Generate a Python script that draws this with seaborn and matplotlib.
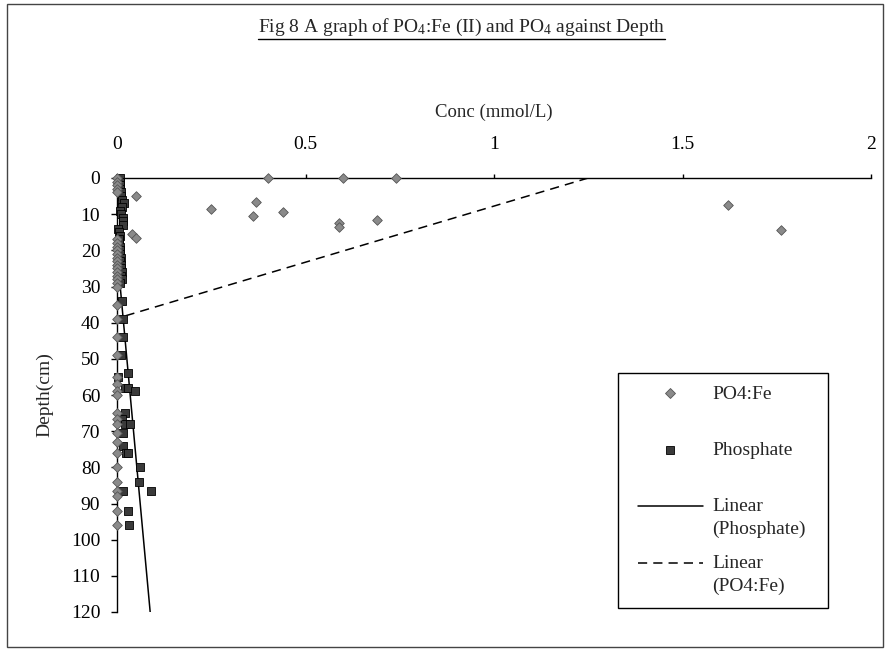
import numpy as np
import pandas as pd
import matplotlib
matplotlib.use("Agg")
import matplotlib.pyplot as plt
import seaborn as sns
from matplotlib.lines import Line2D
from matplotlib.patches import Rectangle
from matplotlib.legend_handler import HandlerLine2D
from matplotlib.transforms import Affine2D

# ---------------- data ----------------
fe_depth = [0, 0, 0, 5, 6.5, 7.5, 8.5, 9.5, 10.5, 11.5, 12.5, 13.5, 14.5, 15.5, 16.5,
            0, 1, 2, 3, 4, 17, 18, 19, 20, 21, 22, 23, 24, 25, 26, 27, 28, 29, 30,
            35, 39, 44, 49, 55, 57, 59, 60, 65, 66.5, 68, 70.5, 73, 76, 80, 84, 86.5,
            88, 92, 96]
fe_conc = [0.40, 0.60, 0.74, 0.05, 0.37, 1.62, 0.25, 0.44, 0.36, 0.69, 0.59, 0.59, 1.76, 0.04, 0.05,
           0.0, 0.0, 0.0, 0.0, 0.0, 0.0, 0.0, 0.0, 0.0, 0.0, 0.0, 0.0,
           0.0, 0.0, 0.0, 0.0, 0.0, 0.0, 0.0,
           0.0, 0.0, 0.0, 0.0, 0.0, 0.0, 0.0, 0.0, 0.0, 0.0, 0.0, 0.0,
           0.0, 0.0, 0.0, 0.0, 0.0, 0.0, 0.0, 0.0]

ph_depth = [0, 1, 2, 3, 4, 5, 6, 7, 8, 9, 10, 11, 12, 13, 14, 15, 16, 17, 18, 19, 20,
            21, 22, 23, 24, 25, 26, 27, 28, 29, 34, 39, 44, 49, 54, 55, 58, 58, 59,
            65, 66.5, 68, 68, 70.5, 74, 76, 76, 80, 84, 86.5, 86.5, 92, 96]
ph_conc = [0.008, 0.008, 0.008, 0.008, 0.010, 0.010, 0.012, 0.018, 0.012, 0.008, 0.010,
           0.015, 0.015, 0.015, 0.003, 0.005, 0.008, 0.005, 0.005, 0.008, 0.008, 0.008,
           0.010, 0.008, 0.010, 0.010, 0.012, 0.010, 0.012, 0.008, 0.012, 0.015, 0.015,
           0.010, 0.030, 0.003, 0.020, 0.030, 0.048, 0.020, 0.012, 0.020, 0.035, 0.015,
           0.015, 0.025, 0.030, 0.060, 0.058, 0.015, 0.090, 0.030, 0.032]

# linear trend lines (end points)
ph_trend_depth = [0, 120]
ph_trend_conc = [-0.018, 0.088]
fe_trend_depth = [0, 38.8]
fe_trend_conc = [1.25, 0.0]

x_ticks = [0, 0.5, 1, 1.5, 2]
x_tick_labels = ["0", "0.5", "1", "1.5", "2"]
y_ticks = list(range(0, 121, 10))

title = r"Fig 8 A graph of PO$_4$:Fe (II) and PO$_4$ against Depth"
x_label = "Conc (mmol/L)"
y_label = "Depth(cm)"
legend_labels = ["PO4:Fe\n ", "Phosphate\n ", "Linear\n(Phosphate)", "Linear\n(PO4:Fe)"]

fe_df = pd.DataFrame({"conc": fe_conc, "depth": fe_depth})
ph_df = pd.DataFrame({"conc": ph_conc, "depth": ph_depth})
ph_tr = pd.DataFrame({"conc": ph_trend_conc, "depth": ph_trend_depth})
fe_tr = pd.DataFrame({"conc": fe_trend_conc, "depth": fe_trend_depth})

# ---------------- style ----------------
sns.set_style("white")
plt.rcParams["font.family"] = ["Liberation Serif", "DejaVu Serif"]
plt.rcParams["mathtext.fontset"] = "custom"
plt.rcParams["mathtext.rm"] = "Liberation Serif"
plt.rcParams["mathtext.it"] = "Liberation Serif"

W, H = 888, 650
fig = plt.figure(figsize=(W / 100, H / 100), dpi=100)
ax = fig.add_axes([117 / W, 1 - 612 / H, (871 - 117) / W, (612 - 178) / H])

FE_FACE, FE_EDGE = "#8a8a8a", "#555555"
PH_FACE, PH_EDGE = "#3a3a3a", "black"
DASH = (0, (6, 4))

# trend lines
sns.lineplot(data=ph_tr, x="conc", y="depth", sort=False, estimator=None,
             color="black", lw=1.1, ax=ax, legend=False)
sns.lineplot(data=fe_tr, x="conc", y="depth", sort=False, estimator=None,
             color="black", lw=1.1, ax=ax, legend=False, linestyle=DASH)

# scatter series
sns.scatterplot(data=ph_df, x="conc", y="depth", marker="s", s=30,
                color=PH_FACE, edgecolor=PH_EDGE, linewidth=0.6, ax=ax, zorder=3,
                clip_on=False)
sns.scatterplot(data=fe_df, x="conc", y="depth", marker="D", s=24,
                color=FE_FACE, edgecolor=FE_EDGE, linewidth=0.6, ax=ax, zorder=4,
                clip_on=False)

ax.set_xlim(0, 2)
ax.set_ylim(120, 0)
ax.xaxis.tick_top()
ax.xaxis.set_label_position("top")
ax.set_xticks(x_ticks)
ax.set_xticklabels(x_tick_labels)
ax.set_yticks(y_ticks)

for s in ["right", "bottom"]:
    ax.spines[s].set_visible(False)
for s in ["left", "top"]:
    ax.spines[s].set_color("black")
    ax.spines[s].set_linewidth(1.0)

ax.tick_params(axis="x", which="major", top=True, bottom=False, direction="out",
               length=3, width=1, pad=15, labelsize=14, colors="black")
ax.tick_params(axis="y", which="major", left=True, direction="out",
               length=4, width=1, pad=8, labelsize=14, colors="black")

ax.set_xlabel(x_label, fontsize=13.5)
ax.set_ylabel(y_label, fontsize=14)
ax.xaxis.set_label_coords(0.5, (612 - 112) / (612 - 178))
ax.xaxis.label.set_va("center")
ax.yaxis.set_label_coords((45 - 117) / (871 - 117), 0.5)
ax.yaxis.label.set_va("center")

# title with underline
t = fig.text(461.5 / W, 1 - 27 / H, title, ha="center", va="center", fontsize=14)


# legend: handles aligned with the first line of each label
class FirstLineHandler(HandlerLine2D):
    def __init__(self, dy, **kw):
        super().__init__(**kw)
        self.dy = dy

    def create_artists(self, legend, orig_handle, xdescent, ydescent, width,
                       height, fontsize, trans):
        arts = super().create_artists(legend, orig_handle, xdescent, ydescent,
                                      width, height, fontsize, trans)
        tr = Affine2D().translate(0, self.dy) + trans
        for a in arts:
            a.set_transform(tr)
        return arts


LEG_FS = 14
LINESP = 1.45
handles = [
    Line2D([], [], marker="D", linestyle="none", markersize=4.8,
           markerfacecolor=FE_FACE, markeredgecolor=FE_EDGE, markeredgewidth=0.6),
    Line2D([], [], marker="s", linestyle="none", markersize=5.2,
           markerfacecolor=PH_FACE, markeredgecolor=PH_EDGE, markeredgewidth=0.6),
    Line2D([], [], color="black", lw=1.1),
    Line2D([], [], color="black", lw=1.1, linestyle=DASH),
]
hmap = {h: FirstLineHandler(dy=LEG_FS * 0.62, xpad=0.36) for h in handles}
leg_top = 1 - 373 / H
leg_h = (605 - 373) / H
leg = ax.legend(handles, legend_labels, loc="upper left",
                bbox_to_anchor=(618 / W, leg_top - leg_h, 210 / W, leg_h),
                bbox_transform=fig.transFigure, mode="expand",
                handler_map=hmap,
                frameon=True, fancybox=False, edgecolor="black", framealpha=1,
                prop={"size": LEG_FS}, handlelength=3.71, handletextpad=0.46,
                labelspacing=0.84, borderpad=0.66, borderaxespad=0)
leg.get_frame().set_linewidth(1.0)
for txt in leg.get_texts():
    txt.set_linespacing(LINESP)

# figure border
fig.add_artist(Rectangle((7 / W, 3 / H), (W - 12) / W, (H - 7) / H,
                         transform=fig.transFigure, fill=False, edgecolor="#444444", lw=1))

fig.canvas.draw()
bb = t.get_window_extent(fig.canvas.get_renderer())
yline = (bb.y0 - 1) / H
fig.add_artist(Line2D([bb.x0 / W, bb.x1 / W], [yline, yline],
                      transform=fig.transFigure, color="black", lw=1))

fig.savefig("out.png", dpi=100)
